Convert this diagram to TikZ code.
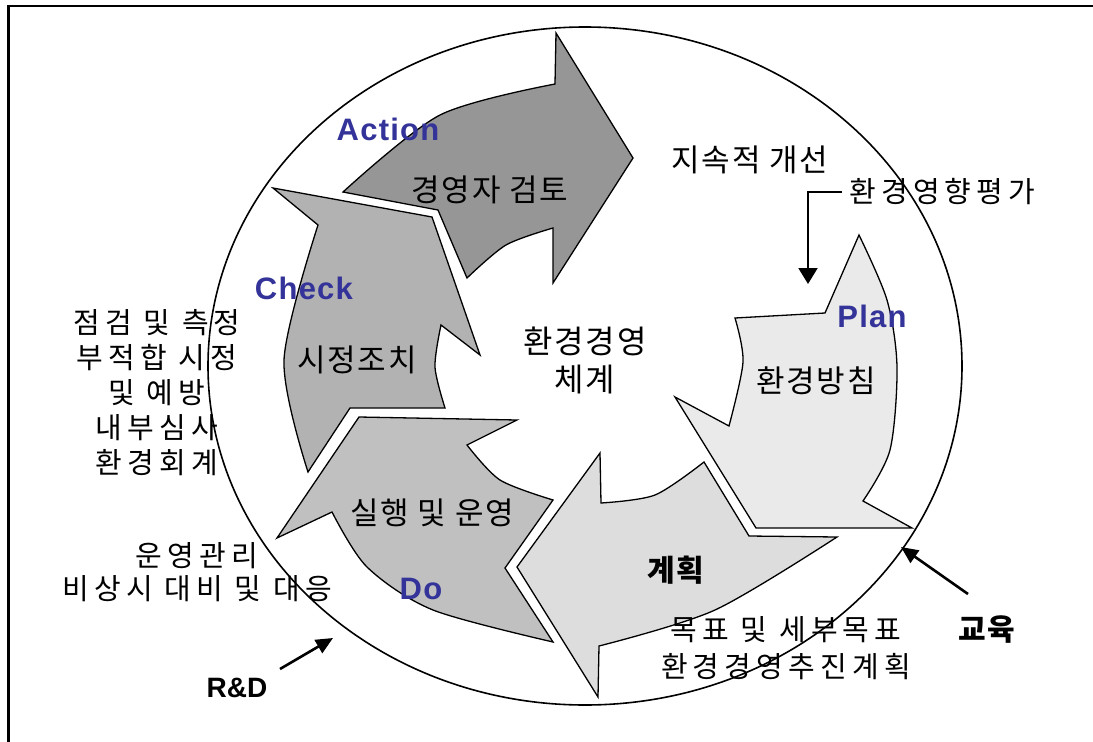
\documentclass[tikz,border=0pt]{standalone}
\usepackage{fontspec}
\setmainfont{Liberation Sans}
\newfontfamily\krfont[LetterSpace=6]{Noto Sans CJK KR}
\newfontfamily\krwide[LetterSpace=18]{Noto Sans CJK KR}
\usetikzlibrary{arrows.meta}
\definecolor{pdcablue}{RGB}{51,51,153}
\definecolor{actfill}{RGB}{150,150,150}
\definecolor{chkfill}{RGB}{178,178,178}
\definecolor{dofill}{RGB}{192,192,192}
\definecolor{plnfill}{RGB}{221,221,221}
\definecolor{polfill}{RGB}{234,234,234}
\begin{document}
\begin{tikzpicture}[x=1pt,y=-1pt,
  blockarrow/.style={draw=black, line width=1.3pt, line join=miter},
  phase/.style={text=pdcablue, inner sep=0pt,
    font=\fontsize{31}{31}\selectfont\bfseries\addfontfeature{LetterSpace=4}},
  inlabel/.style={inner sep=0pt, font=\krfont\fontsize{31}{36}\selectfont},
  outlabel/.style={inner sep=0pt, align=center, font=\krwide\fontsize{29}{35}\selectfont},
  pointer/.style={line width=2.6pt, -{Triangle[length=17pt,width=15pt]}}
]
\useasboundingbox (0,0) rectangle (1093,742);

% frame
\draw[line width=2.5pt] (8.5,742) -- (8.5,6) -- (1093,6);

% outer ring
\draw[line width=1.6pt] (585,366) ellipse [x radius=377pt, y radius=339pt];

% Action: management review
\filldraw[blockarrow, fill=actfill]
  (343,192) -- (438,210) -- (467,278)
  -- plot[smooth] coordinates {(467,278) (506,245) (553,228)}
  -- (553,283) -- (633,158) -- (556,33) -- (555,84)
  -- plot[smooth] coordinates {(555,84) (440,115) (343,192)}
  -- cycle;

% Check: corrective action
\filldraw[blockarrow, fill=chkfill]
  (308,472) -- (350,408) -- (445,408)
  -- plot[smooth] coordinates {(445,408) (435,367) (441,325)}
  -- (480,355) -- (432,217) -- (273,188) -- (318,225)
  -- plot[smooth] coordinates {(318,225) (284,360) (308,472)}
  -- cycle;

% Do: implementation and operation
\filldraw[blockarrow, fill=dofill]
  (553,500) -- (505,568) -- (553,642)
  -- plot[smooth] coordinates {(553,642) (433,610) (367,567) (332,512)}
  -- (277,538) -- (359,417) -- (517,420) -- (467,445)
  -- plot[smooth] coordinates {(467,445) (500,480) (553,500)}
  -- cycle;

% Planning
\filldraw[blockarrow, fill=plnfill]
  (704,462) -- (749,536) -- (837,537)
  -- plot[smooth] coordinates {(837,537) (715,610) (599,646)}
  -- (598,697) -- (517,567) -- (600,453) -- (601,503)
  -- plot[smooth] coordinates {(601,503) (655,495) (704,462)}
  -- cycle;

% Environmental policy
\filldraw[blockarrow, fill=polfill]
  (859,235) -- (825,313) -- (735,318)
  -- plot[smooth] coordinates {(735,318) (743,362) (729,426)}
  -- (675,397) -- (756,528) -- (912,528) -- (863,501)
  -- plot[smooth] coordinates {(863,501) (890,450) (897,367) (887,300) (859,235)}
  -- cycle;

% labels inside the cycle
\node[inlabel] (review) at (490,190) {경영자 검토};
\node[inlabel] (corr) at (357,360) {시정조치};
\node[inlabel] (policy) at (816,381) {환경방침};
\node[inlabel] (impl) at (432,513) {실행 및 운영};
\node[inlabel, font=\krfont\bfseries\fontsize{30}{34}\selectfont] (planning) at (676,570) {계획};
\node[inlabel, align=center, font=\krfont\fontsize{32}{38}\selectfont] (ems) at (585,360) {환경경영\\체계};
\node[inlabel] (improve) at (750,160) {지속적 개선};

% PDCA phase names
\node[phase] (action) at (388,129) {Action};
\node[phase] (check) at (304,288) {Check};
\node[phase] (plan) at (872,316) {Plan};
\node[phase] (do) at (421,589) {Do};

% surrounding notes
\node[outlabel, anchor=west] (eia) at (849,192) {환경영향평가};
\coordinate (eiatip) at (808,284);
\draw[line width=2pt, -{Triangle[length=16pt,width=19pt]}] (eia.west) ++(-7,0) -| (eiatip);

\node[outlabel] (checklist) at (157,393) {점검 및 측정\\부적합 시정\\및 예방\\내부심사\\환경회계};
\node[outlabel, font=\krwide\fontsize{29}{33}\selectfont] (ops) at (197,572) {운영관리\\비상시 대비 및 대응};
\node[outlabel, font=\krwide\fontsize{29}{37}\selectfont] (targets) at (786,648) {목표 및 세부목표\\환경경영추진계획};

% inputs from outside the cycle
\node[inner sep=0pt, font=\fontsize{28}{28}\selectfont\bfseries] (rd) at (237,688) {R\&D};
\coordinate (rdtail) at (280,669);
\coordinate (rdtip) at (333,638);
\draw[pointer] (rdtail) -- (rdtip);

\node[inner sep=0pt, font=\krfont\bfseries\fontsize{30}{34}\selectfont] (edu) at (987,630) {교육};
\coordinate (edutail) at (968,594);
\coordinate (edutip) at (901,547);
\draw[pointer] (edutail) -- (edutip);
\end{tikzpicture}
\end{document}
